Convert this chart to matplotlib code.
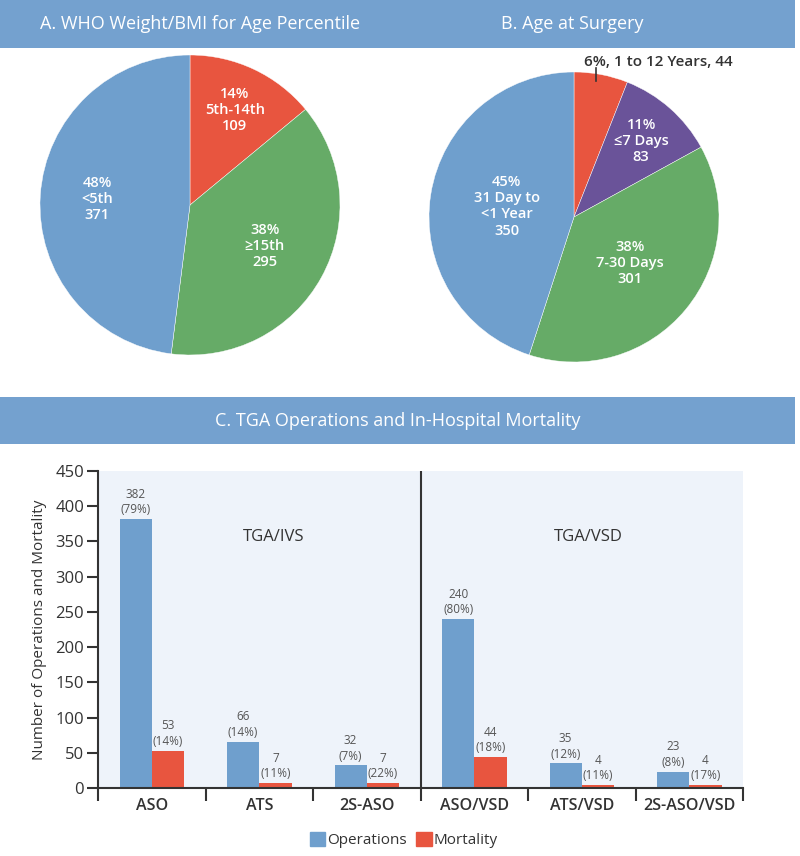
import numpy as np
import matplotlib
matplotlib.use("Agg")
import matplotlib.pyplot as plt
from matplotlib.patches import Rectangle, Patch

plt.rcParams['font.family'] = ['Open Sans', 'DejaVu Sans']

# Panel A: WHO weight/BMI for age percentile
who_labels = ['5th-14th', '\u226515th', '<5th']
who_pct = [14, 38, 48]
who_n = [109, 295, 371]
who_colors = ['#e8553f', '#66ab67', '#6f9fcd']

# Panel B: age at surgery
age_labels = ['1 to 12 Years', '\u22647 Days', '7-30 Days', '31 Day to\n<1 Year']
age_pct = [6, 11, 38, 45]
age_n = [44, 83, 301, 350]
age_colors = ['#e8553f', '#6a5399', '#66ab67', '#6f9fcd']

# Panel C: operations and mortality
procedures = ['ASO', 'ATS', '2S-ASO', 'ASO/VSD', 'ATS/VSD', '2S-ASO/VSD']
operations = [382, 66, 32, 240, 35, 23]
operations_pct = [79, 14, 7, 80, 12, 8]
mortality = [53, 7, 7, 44, 4, 4]
mortality_pct = [14, 11, 22, 18, 11, 17]
groups = ['TGA/IVS', 'TGA/VSD']

BLUE = '#6f9fcd'
RED = '#e8553f'
HEAD = '#74a1cf'
DARK = '#333333'
W, H = 800, 856


def px_axes(fig, left, top, width, height):
    # axes from pixel box (top-left origin)
    return fig.add_axes([left / W, 1 - (top + height) / H, width / W, height / H])


def header(fig, top, height, texts):
    fig.patches.append(Rectangle((0, 1 - (top + height) / H), 795 / W, height / H,
                                 transform=fig.transFigure, facecolor=HEAD,
                                 edgecolor='none', zorder=0))
    for x, t in texts:
        fig.text(x / W, 1 - (top + height / 2) / H, t, color='white', fontsize=13,
                 ha='center', va='center', fontweight='medium')


def draw_pie(ax, values, colors, labels, dists):
    wedges, _ = ax.pie(values, colors=colors, startangle=90, counterclock=False,
                       wedgeprops=dict(edgecolor='white', linewidth=0.3))
    ax.set_xlim(-1, 1)
    ax.set_ylim(-1, 1)
    ax.set_aspect('equal')
    for w, lab, d in zip(wedges, labels, dists):
        if lab is None:
            continue
        ang = np.deg2rad((w.theta1 + w.theta2) / 2)
        ax.text(d * np.cos(ang), d * np.sin(ang), lab, color='white', fontsize=10.5,
                ha='center', va='center', fontweight='semibold')
    return wedges


fig = plt.figure(figsize=(8, 8.56), dpi=100)
fig.patch.set_facecolor('white')

header(fig, 0, 48, [(200, 'A. WHO Weight/BMI for Age Percentile'), (572, 'B. Age at Surgery')])
header(fig, 397, 47, [(398, 'C. TGA Operations and In-Hospital Mortality')])

# Pie A
axA = px_axes(fig, 40, 55, 300, 300)
labA = [f'{p}%\n{l}\n{n}' for p, l, n in zip(who_pct, who_labels, who_n)]
draw_pie(axA, who_pct, who_colors, labA, [0.7, 0.57, 0.62])

# Pie B
axB = px_axes(fig, 429, 72, 290, 290)
labB = [None] + [f'{p}%\n{l}\n{n}' for p, l, n in zip(age_pct[1:], age_labels[1:], age_n[1:])]
wB = draw_pie(axB, age_pct, age_colors, labB, [0, 0.7, 0.5, 0.47])
ang = np.deg2rad((wB[0].theta1 + wB[0].theta2) / 2)
ex = 0.8 * np.cos(ang)
axB.plot([ex, ex], [0.94, 1.03], color=DARK, lw=1.2, clip_on=False)
axB.text(ex - 0.08, 1.07, f'{age_pct[0]}%, {age_labels[0]}, {age_n[0]}', color=DARK,
         fontsize=11, ha='left', va='center', fontweight='semibold', clip_on=False)

# Bar chart
ax = px_axes(fig, 98, 471, 645, 317)
ax.set_facecolor('#eef3fa')
x = np.arange(len(procedures)) + 0.5
bw = 0.3
ax.bar(x - bw / 2, operations, bw, color=BLUE, label='Operations', zorder=2)
ax.bar(x + bw / 2, mortality, bw, color=RED, label='Mortality', zorder=2)
for xi, v, p in zip(x, operations, operations_pct):
    ax.text(xi - bw / 2, v + 4, f'{v}\n({p}%)', ha='center', va='bottom',
            fontsize=8.5, color='#555555', linespacing=1.25)
for xi, v, p in zip(x, mortality, mortality_pct):
    ax.text(xi + bw / 2, v + 4, f'{v}\n({p}%)', ha='center', va='bottom',
            fontsize=8.5, color='#555555', linespacing=1.25)

ax.set_xlim(0, len(procedures))
ax.set_ylim(0, 450)
ax.set_yticks(np.arange(0, 451, 50))
ax.set_xticks(np.arange(0, len(procedures) + 1))
ax.set_xticklabels([])
ax.set_xticks(x, minor=True)
ax.set_xticklabels(procedures, minor=True, fontsize=11.5, color=DARK, fontweight='semibold')
ax.tick_params(axis='x', which='minor', length=0, pad=7)
ax.tick_params(axis='x', which='major', length=9, width=1.5, color=DARK)
ax.tick_params(axis='y', length=8, width=1.5, color=DARK, labelsize=12, labelcolor=DARK, pad=2)
for s in ['top', 'right']:
    ax.spines[s].set_visible(False)
for s in ['left', 'bottom']:
    ax.spines[s].set_color(DARK)
    ax.spines[s].set_linewidth(1.5)
ax.axvline(3, color=DARK, lw=1.5, zorder=3)
ax.set_ylabel('Number of Operations and Mortality', fontsize=11, color=DARK, labelpad=6)

ax.text(1.63, 356, groups[0], ha='center', va='center', fontsize=12, color=DARK)
ax.text(4.56, 356, groups[1], ha='center', va='center', fontsize=12, color=DARK)

handles = [Patch(color=BLUE), Patch(color=RED)]
fig.legend(handles, ['Operations', 'Mortality'], loc='center', ncol=2,
           bbox_to_anchor=(0.505, 1 - 840 / H), frameon=False, fontsize=11,
           handlelength=1.0, handleheight=1.0, handletextpad=0.15, columnspacing=0.6,
           labelcolor=DARK)

fig.savefig('out.png', dpi=100)
